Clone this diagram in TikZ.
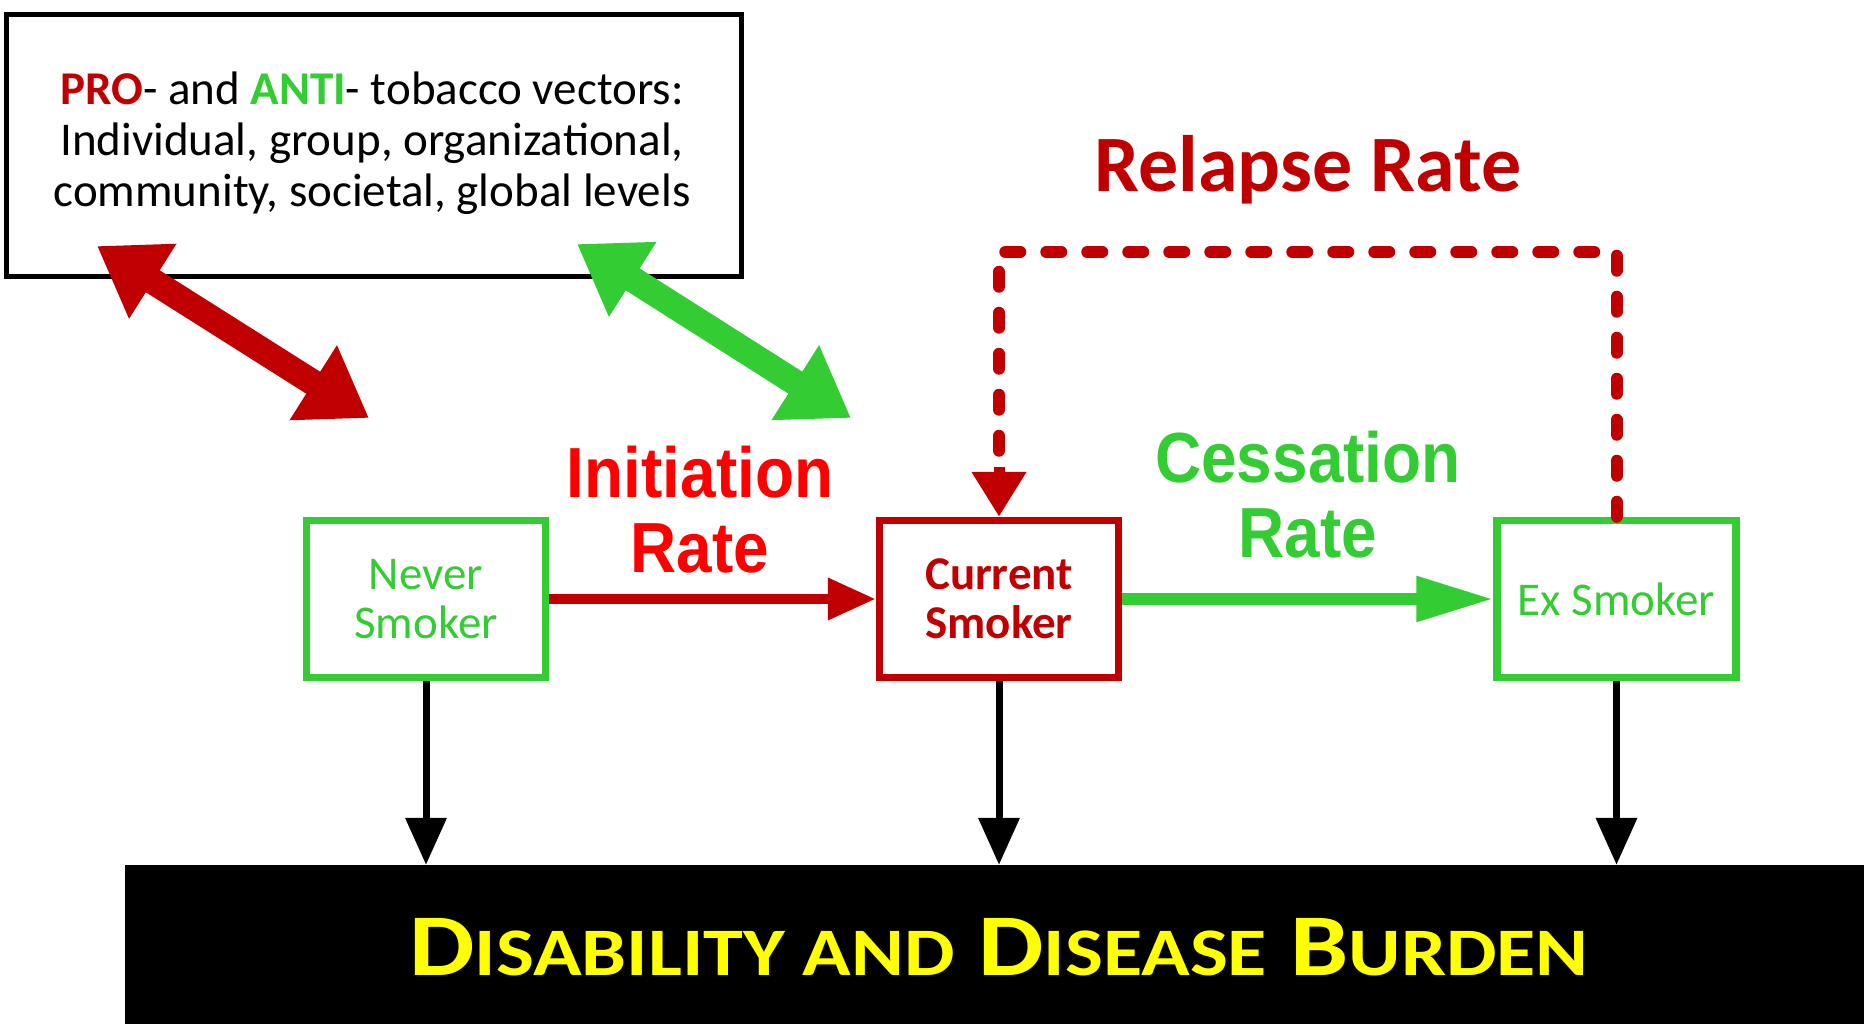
\documentclass[tikz,border=0pt]{standalone}
\usepackage{fontspec}
\setmainfont{Carlito}
\newfontfamily\narrowbold[FakeStretch=0.9]{Liberation Sans}
\usetikzlibrary{arrows.meta}
\definecolor{dred}{RGB}{192,0,0}
\definecolor{lgreen}{RGB}{51,204,51}
\definecolor{bred}{RGB}{255,0,0}
\definecolor{yel}{RGB}{255,255,0}
\begin{document}
\begin{tikzpicture}[x=1pt,y=-1pt,
  statebox/.style={draw,line width=7.5pt,minimum width=239pt,minimum height=157pt,inner sep=0pt,align=center,font=\fontsize{47}{49}\selectfont},
  downarrow/.style={line width=7pt,-{Triangle[length=47pt,width=40pt]}},
  bigdbl/.style={line width=26pt,{Triangle[length=66pt,width=84pt]}-{Triangle[length=66pt,width=84pt]}},
  ratelabel/.style={align=center,font=\narrowbold\bfseries\fontsize{71}{75}\selectfont}
]
\useasboundingbox[fill=white] (0,0) rectangle (1864,1024);

% top box
\node[draw,line width=5pt,minimum width=735pt,minimum height=262pt,inner sep=0pt] (topbox) at (374,145.5) {};
\node[align=center,font=\fontsize{47}{51}\selectfont] (toptext) at (372,143.5)
  {{\bfseries\color{dred}PRO}- and {\bfseries\color{lgreen}ANTI}- tobacco vectors:\\
   Individual, group, organizational,\\
   community, societal, global levels};

% state boxes
\node[statebox,draw=lgreen,text=lgreen] (never) at (426,599) {Never\\Smoker};
\node[statebox,draw=dred,text=dred,font=\bfseries\fontsize{47}{49}\selectfont] (current) at (999,599) {Current\\Smoker};
\node[statebox,draw=lgreen,text=lgreen] (ex) at (1616.5,599) {Ex Smoker};

% bottom bar
\node[fill=black,minimum width=1739pt,minimum height=159pt,inner sep=0pt] (bar) at (994.5,944.5) {};
\node[text=yel,font=\bfseries\fontsize{88}{88}\selectfont] (bartext) at (999,947)
  {\scalebox{1.18}[1]{D{\fontsize{68}{68}\selectfont ISABILITY AND} D{\fontsize{68}{68}\selectfont ISEASE} B{\fontsize{68}{68}\selectfont URDEN}}};

% down arrows
\draw[downarrow] (never.south) -- (never.south |- bar.north);
\draw[downarrow] (current.south) -- (current.south |- bar.north);
\draw[downarrow] (ex.south) -- (ex.south |- bar.north);

% flows
\draw[dred,line width=10pt,-{Triangle[length=48pt,width=40pt]}] (never.east) -- (current.west);
\draw[lgreen,line width=12pt,-{Triangle[length=77pt,width=43pt]}] (current.east) -- (ex.west);

% relapse
\coordinate (rtop) at (1300,252);
\draw[dred,line width=12pt,line cap=round,dash pattern=on 15pt off 26pt]
  (ex.north) |- (rtop) -| ([yshift=48pt]current.north);
\draw[dred,line width=11pt,-{Triangle[length=45pt,width=52pt]}]
  ([yshift=50pt]current.north) -- (current.north);

% labels
\node[ratelabel,text=bred] (initlabel) at (700,510) {Initiation\\Rate};
\node[ratelabel,text=lgreen] (cesslabel) at (1308,495) {Cessation\\Rate};
\node[font=\bfseries\fontsize{80}{80}\selectfont,text=dred] (relapselabel) at (1308,170) {Relapse Rate};

% double arrows
\coordinate (r1) at (97,246);
\coordinate (r2) at (369,418);
\coordinate (g1) at (577,244);
\coordinate (g2) at (851,418);
\draw[bigdbl,dred] (r1) -- (r2);
\draw[bigdbl,lgreen] (g1) -- (g2);
\end{tikzpicture}
\end{document}
